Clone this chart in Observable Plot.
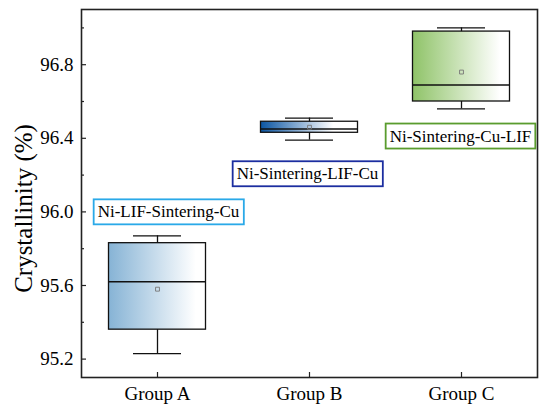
<!DOCTYPE html>
<html>
<head>
<meta charset="utf-8">
<script src="https://cdn.jsdelivr.net/npm/d3@7"></script>
<script src="https://cdn.jsdelivr.net/npm/@observablehq/plot@0.6"></script>
<style>
  body { margin: 0; background: #fff; }
  #chart svg { display: block; }
</style>
</head>
<body>
<div id="chart"></div>
<script>
// box statistics
const groups = ["Group A", "Group B", "Group C"];
const whiskerLow = [95.23, 96.39, 96.56];
const q1 = [95.36, 96.43, 96.60];
const medians = [95.62, 96.45, 96.69];
const q3 = [95.83, 96.49, 96.98];
const whiskerHigh = [95.87, 96.51, 97.00];
const means = [95.58, 96.46, 96.76];

// annotation boxes
const labels = ["Ni-LIF-Sintering-Cu", "Ni-Sintering-LIF-Cu", "Ni-Sintering-Cu-LIF"];
const labelY = [96.0, 96.207, 96.412];
const labelShift = [11, -2, -1];

const majorTicks = [95.2, 95.6, 96.0, 96.4, 96.8];
const minorTicks = [95.4, 95.8, 96.2, 96.6, 97.0];

const fillColors = ["#86b3d5", "#0b55a2", "#8fc368"];
const borderColors = ["#2aa9e8", "#1c2ea0", "#5a9c2e"];

const rows = groups.map((g, i) => ({
  group: g, lo: whiskerLow[i], q1: q1[i], med: medians[i], q3: q3[i],
  hi: whiskerHigh[i], mean: means[i], label: labels[i], ly: labelY[i]
}));

const W = 554, H = 413;
const mL = 81, mR = 17, mT = 9, mB = 36;
const innerW = W - mL - mR, innerH = H - mT - mB;
const boxInset = 27.5, capInset = 52;
const serif = "'Liberation Serif', 'Times New Roman', serif";

// gradient defs as a function mark
const defs = () => {
  const d = d3.create("svg:defs");
  fillColors.forEach((c, i) => {
    const g = d.append("linearGradient").attr("id", "grad" + i)
      .attr("x1", 0).attr("x2", 1).attr("y1", 0).attr("y2", 0);
    g.append("stop").attr("offset", 0).attr("stop-color", c);
    g.append("stop").attr("offset", i === 1 ? 0.75 : 0.9).attr("stop-color", "#fff");
    g.append("stop").attr("offset", 1).attr("stop-color", "#fff");
  });
  return d.node();
};

const chart = Plot.plot({
  width: W,
  height: H,
  marginLeft: mL,
  marginRight: mR,
  marginTop: mT,
  marginBottom: mB,
  style: { fontFamily: serif, fontSize: "19px", color: "#000", background: "#fff" },
  x: { type: "band", domain: groups, padding: 0, label: null },
  y: { domain: [95.1, 97.1], label: null },
  marks: [
    defs,
    // whiskers
    Plot.ruleX(rows, { x: "group", y1: "lo", y2: "hi", stroke: "#111", strokeWidth: 1.3 }),
    Plot.tickY(rows, { x: "group", y: "lo", stroke: "#111", strokeWidth: 1.3, insetLeft: capInset, insetRight: capInset }),
    Plot.tickY(rows, { x: "group", y: "hi", stroke: "#111", strokeWidth: 1.3, insetLeft: capInset, insetRight: capInset }),
    // boxes
    ...rows.map((r, i) => Plot.barY([r], {
      x: "group", y1: "q1", y2: "q3", fill: `url(#grad${i})`,
      stroke: "#111", strokeWidth: 1.3, insetLeft: boxInset, insetRight: boxInset
    })),
    Plot.tickY(rows, { x: "group", y: "med", stroke: "#111", strokeWidth: 1.5, insetLeft: boxInset, insetRight: boxInset }),
    Plot.dot(rows, { x: "group", y: "mean", symbol: "square", r: 2.2, stroke: "#777", strokeWidth: 0.9, fill: "none" }),
    // annotation text, one mark per group (borders drawn afterwards)
    ...rows.map((r, i) => Plot.text([r], {
      x: "group", y: "ly", text: "label", dx: labelShift[i],
      fontSize: 17, fill: "#000"
    })),
    // axes with inward ticks
    Plot.axisY({ ticks: majorTicks, tickFormat: d3.format(".1f"), tickSize: 0, tickPadding: 8 }),
    Plot.axisX({ tickSize: 0, tickPadding: 9 }),
    Plot.tickY(majorTicks, { y: d => d, stroke: "#222", strokeWidth: 1.2, insetRight: innerW - 5 }),
    Plot.tickY(minorTicks, { y: d => d, stroke: "#222", strokeWidth: 1.2, insetRight: innerW - 3 }),
    Plot.tickX(groups, { x: d => d, stroke: "#222", strokeWidth: 1.2, insetTop: innerH - 5 }),
    Plot.frame({ stroke: "#222", strokeWidth: 1.6 }),
    Plot.text(["Crystallinity (%)"], {
      frameAnchor: "left", textAnchor: "middle", rotate: -90,
      dx: -58, dy: 15, fontSize: 25, fill: "#000"
    })
  ]
});

document.getElementById("chart").append(chart);

// coloured border round each annotation
d3.select(chart).selectAll("text")
  .filter(function () { return labels.includes(this.textContent); })
  .each(function () {
    const i = labels.indexOf(this.textContent);
    const b = this.getBBox();
    d3.select(this.parentNode).insert("rect", () => this)
      .attr("x", b.x - 4)
      .attr("y", b.y - 3)
      .attr("width", b.width + 8)
      .attr("height", b.height + 6)
      .attr("transform", this.getAttribute("transform"))
      .attr("fill", "#fff")
      .attr("stroke", borderColors[i])
      .attr("stroke-width", 1.8);
  });
</script>
</body>
</html>
